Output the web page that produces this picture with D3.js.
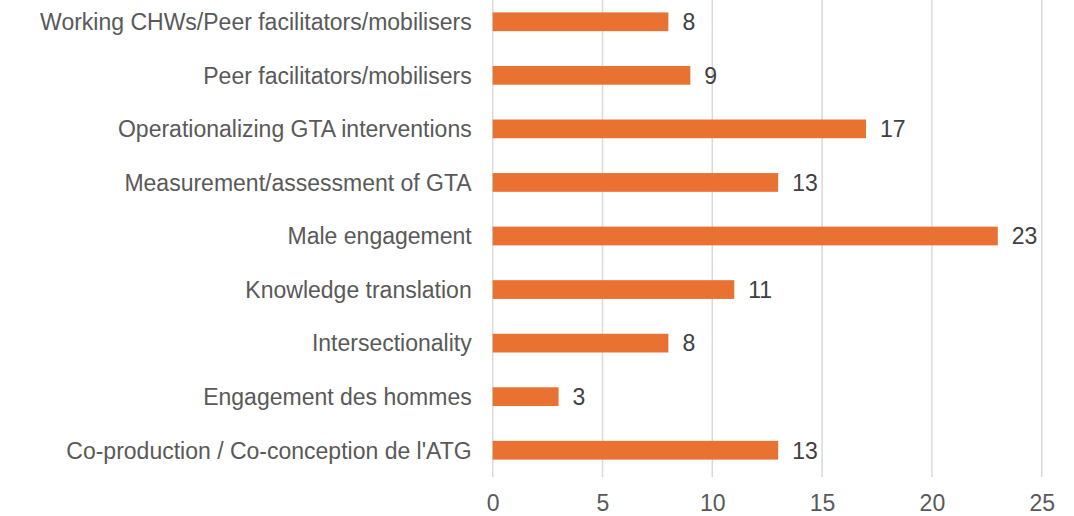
<!DOCTYPE html>
<html>
<head>
<meta charset="utf-8">
<script src="https://cdn.jsdelivr.net/npm/d3@7"></script>
<style>
  body { margin: 0; background: #fff; }
  text { font-family: "Liberation Sans", Arial, sans-serif; }
</style>
</head>
<body>
<div id="chart"></div>
<script>
// categories top to bottom, as in the picture
const categories = [
  "Working CHWs/Peer facilitators/mobilisers",
  "Peer facilitators/mobilisers",
  "Operationalizing GTA interventions",
  "Measurement/assessment of GTA",
  "Male engagement",
  "Knowledge translation",
  "Intersectionality",
  "Engagement des hommes",
  "Co-production / Co-conception de l'ATG"
];
const counts = [8, 9, 17, 13, 23, 11, 8, 3, 13];
const xTicks = [0, 5, 10, 15, 20, 25];

const data = categories.map((c, i) => ({cat: c, value: counts[i]}));

const width = 1074, height = 516;
const margin = {top: -5, right: 32.3, bottom: 39, left: 492.7};
const fontSize = "23px";

const svg = d3.select("#chart")
  .append("svg")
    .attr("width", width)
    .attr("height", height);

const x = d3.scaleLinear()
    .domain([0, 25])
    .range([margin.left, width - margin.right]);

const y = d3.scaleBand()
    .domain(categories)
    .range([margin.top, height - margin.bottom])
    .paddingInner(0.65)
    .paddingOuter(0.325);

// gridlines
svg.append("g")
  .selectAll("line")
  .data(xTicks)
  .join("line")
    .attr("x1", d => x(d))
    .attr("x2", d => x(d))
    .attr("y1", 0)
    .attr("y2", height - margin.bottom)
    .attr("stroke", "#d9d9d9")
    .attr("stroke-width", 1.5);

// bars
svg.append("g")
  .selectAll("rect")
  .data(data)
  .join("rect")
    .attr("x", x(0))
    .attr("y", d => y(d.cat))
    .attr("width", d => x(d.value) - x(0))
    .attr("height", y.bandwidth())
    .attr("fill", "#e97132");

// value labels
svg.append("g")
  .selectAll("text")
  .data(data)
  .join("text")
    .attr("x", d => x(d.value) + 14)
    .attr("y", d => y(d.cat) + y.bandwidth() / 2)
    .attr("dy", "0.36em")
    .attr("fill", "#404040")
    .style("font-size", fontSize)
    .text(d => d.value);

// category axis labels
svg.append("g")
  .selectAll("text")
  .data(categories)
  .join("text")
    .attr("x", margin.left - 21)
    .attr("y", d => y(d) + y.bandwidth() / 2)
    .attr("dy", "0.36em")
    .attr("text-anchor", "end")
    .attr("fill", "#595959")
    .style("font-size", fontSize)
    .text(d => d);

// x axis
const xAxis = svg.append("g")
    .attr("transform", `translate(0, 503)`)
    .call(d3.axisBottom(x).tickValues(xTicks).tickSize(0).tickPadding(0));
xAxis.select(".domain").remove();
xAxis.selectAll("text")
    .attr("y", 0)
    .attr("fill", "#595959")
    .attr("dy", "0.36em")
    .style("font-size", fontSize)
    .style("font-family", "'Liberation Sans', Arial, sans-serif");
</script>
</body>
</html>
